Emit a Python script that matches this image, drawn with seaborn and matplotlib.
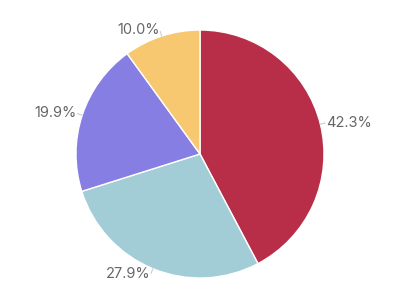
import numpy as np
import matplotlib
matplotlib.use("Agg")
import matplotlib.pyplot as plt
import seaborn as sns

labels = ["42.3%", "27.9%", "19.9%", "10.0%"]
values = [42.3, 27.9, 19.9, 10.0]
colors = ["#b82e48", "#a3cdd6", "#877ee3", "#f7c86f"]

sns.set_theme(style="white")
plt.rcParams['font.family'] = ['Inter', 'DejaVu Sans']

fig = plt.figure(figsize=(4, 3), dpi=100)
ax = fig.add_axes([0, 0, 1, 1])
R = 124.0
ax.set_xlim(-200 / R, 200 / R)
ax.set_ylim(-146 / R, 154 / R)
ax.axis("off")

wedges, _ = ax.pie(values, colors=colors, startangle=90, counterclock=False,
                   radius=1.0, center=(0, 0), frame=True,
                   wedgeprops=dict(edgecolor="white", linewidth=1.0))
ax.set_xlim(-200 / R, 200 / R)
ax.set_ylim(-146 / R, 154 / R)
ax.axis("off")

total = sum(values)
start = 90.0
for v, lab in zip(values, labels):
    sweep = 360.0 * v / total
    mid = np.deg2rad(start - sweep / 2)
    start -= sweep
    cx, cy = np.cos(mid), np.sin(mid)
    ax.plot([cx * 1.0, cx * 1.04], [cy * 1.0, cy * 1.04], color="#cccccc", lw=0.8)
    ha = "left" if cx >= 0 else "right"
    ax.text(cx * 1.05, cy * 1.05, lab, ha=ha, va="center",
            fontsize=10.5, color="#666666")

fig.savefig("out.png", dpi=100)
